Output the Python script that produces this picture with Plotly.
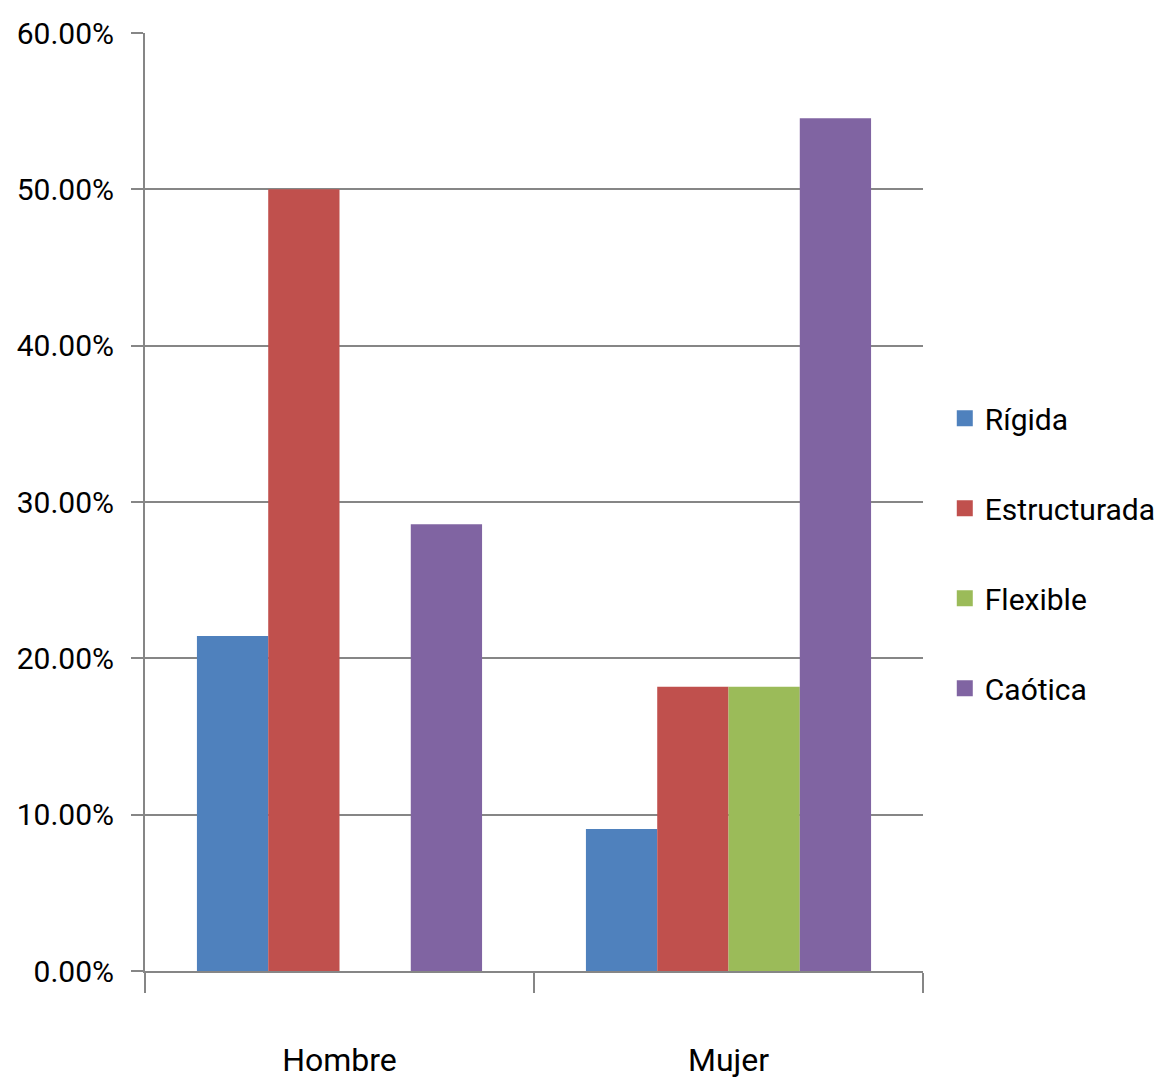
import plotly.graph_objects as go

# Family type by sex (share of respondents)
categories = ["Hombre", "Mujer"]
rigida = [0.2143, 0.0909]
estructurada = [0.5000, 0.1818]
flexible = [0.0, 0.1818]
caotica = [0.2857, 0.5455]

series = [
    ("Rígida", rigida, "#4F81BD"),
    ("Estructurada", estructurada, "#C0504D"),
    ("Flexible", flexible, "#9BBB59"),
    ("Caótica", caotica, "#8064A2"),
]

FONT = "Roboto, Liberation Sans, sans-serif"
GRID = "#868686"

fig = go.Figure()
for name, vals, color in series:
    fig.add_trace(go.Bar(
        x=categories, y=vals, name=name,
        marker=dict(color=color, line=dict(width=0)),
        legendgroup=name, showlegend=False,
    ))
    # larger square swatch for the legend entry
    fig.add_trace(go.Scatter(
        x=[None], y=[None], mode="markers", name=name,
        marker=dict(symbol="square", size=20, color=color),
        legendgroup=name, showlegend=True,
    ))

fig.update_layout(
    width=1158, height=1091,
    margin=dict(l=145, r=235, t=33, b=120, autoexpand=False),
    paper_bgcolor="white", plot_bgcolor="white",
    barmode="group", bargap=0.267, bargroupgap=0,
    font=dict(family=FONT, color="#000000", size=30),
    showlegend=True,
    legend=dict(
        x=1.028, y=0.617, xanchor="left", yanchor="top",
        font=dict(family=FONT, size=30),
        tracegroupgap=48, itemwidth=30,
        bgcolor="rgba(0,0,0,0)",
    ),
    xaxis=dict(
        type="category", automargin=False,
        showgrid=False,
        showline=True, linecolor=GRID, linewidth=2,
        ticks="outside", tickson="boundaries", ticklen=20,
        tickcolor=GRID, tickwidth=2,
        tickfont=dict(family=FONT, size=32),
        ticklabelstandoff=60,
    ),
    yaxis=dict(
        range=[0, 0.6], dtick=0.1, tickformat=".2%",
        automargin=False,
        showgrid=True, gridcolor=GRID, gridwidth=2,
        showline=True, linecolor=GRID, linewidth=2,
        ticks="outside", ticklen=12, tickcolor=GRID, tickwidth=2,
        tickfont=dict(family=FONT, size=30),
        ticklabelstandoff=11,
        zeroline=False,
    ),
)

fig.write_html("out.html")
